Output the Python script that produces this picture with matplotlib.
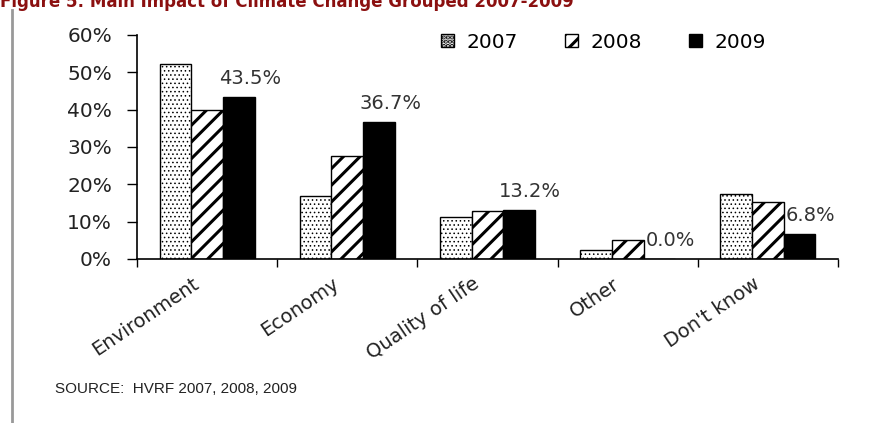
import matplotlib.pyplot as plt
import numpy as np
from matplotlib.patches import Patch
from matplotlib.lines import Line2D
from matplotlib.ticker import FuncFormatter, FixedLocator

# main impact of climate change, share of respondents (%)
categories = ["Environment", "Economy", "Quality of life", "Other", "Don't know"]
years = ["2007", "2008", "2009"]
share_2007 = [52.1, 16.9, 11.3, 2.3, 17.3]
share_2008 = [39.9, 27.5, 12.8, 5.0, 15.4]
share_2009 = [43.5, 36.7, 13.2, 0.0, 6.8]

plt.rcParams['font.family'] = ['DejaVu Sans']

fig = plt.figure(figsize=(8.8, 4.23), dpi=100)
ax = fig.add_axes([137/880, 1 - 259/423, (838 - 137)/880, (259 - 35)/423])

x = np.arange(len(categories))
w = 0.226

# 2007 dotted, 2008 striped, 2009 solid black
plt.rcParams['hatch.linewidth'] = 0.6
ax.bar(x - w, share_2007, w, color='white', edgecolor='black', linewidth=1, hatch='....')
plt.rcParams['hatch.linewidth'] = 2.2
ax.bar(x, share_2008, w, color='white', edgecolor='black', linewidth=1, hatch='//')
ax.bar(x + w, share_2009, w, color='black', edgecolor='black', linewidth=1)

# value labels on the 2009 bars
for xi, v in zip(x, share_2009):
    ax.annotate(f"{v:.1f}%", (xi + w, v), xytext=(8, 13), textcoords='offset points',
                ha='center', va='center', fontsize=14, color='#333333')

ax.set_xlim(-0.5, len(categories) - 0.5)
ax.set_ylim(0, 60)
ax.set_yticks(np.arange(0, 61, 10))
ax.yaxis.set_major_formatter(FuncFormatter(lambda v, p: f"{int(v)}%"))
ax.tick_params(axis='y', labelsize=14.5, labelcolor='#222222', length=7, width=1, pad=11)

ax.set_xticks(x - 0.11)
ax.set_xticklabels(categories, rotation=34, ha='right', rotation_mode='anchor',
                   fontsize=14, color='#222222')
ax.tick_params(axis='x', which='major', length=0, pad=11)
ax.xaxis.set_minor_locator(FixedLocator(np.arange(-0.5, len(categories), 1.0)))
ax.tick_params(axis='x', which='minor', length=6, width=1)

for s in ['top', 'right']:
    ax.spines[s].set_visible(False)
for s in ['left', 'bottom']:
    ax.spines[s].set_linewidth(1.2)

handles = [
    Patch(facecolor='white', edgecolor='black', hatch='....', label=years[0]),
    Patch(facecolor='white', edgecolor='black', hatch='//', label=years[1]),
    Patch(facecolor='black', edgecolor='black', label=years[2]),
]
fig.legend(handles=handles, loc='center left', bbox_to_anchor=(441/880, 1 - 42/423),
           ncol=3, frameon=False, fontsize=14.5, handlelength=0.65, handleheight=0.65,
           handletextpad=0.6, columnspacing=2.35, borderpad=0, borderaxespad=0)

fig.text(55/880, 1 - 389/423, "SOURCE:  HVRF 2007, 2008, 2009", fontsize=11,
         family='Liberation Sans', color='#222222', va='center', ha='left')

# caption, clipped by the top edge
fig.text(0, 1 - 7/423, "Figure 5: Main Impact of Climate Change Grouped 2007-2009",
         fontsize=12, fontweight='bold', color='#8B1010', va='baseline', ha='left')

fig.add_artist(Line2D([12/880, 12/880], [0, 1 - 10/423], color='#999999', lw=2))

fig.savefig('out.png', dpi=100)
